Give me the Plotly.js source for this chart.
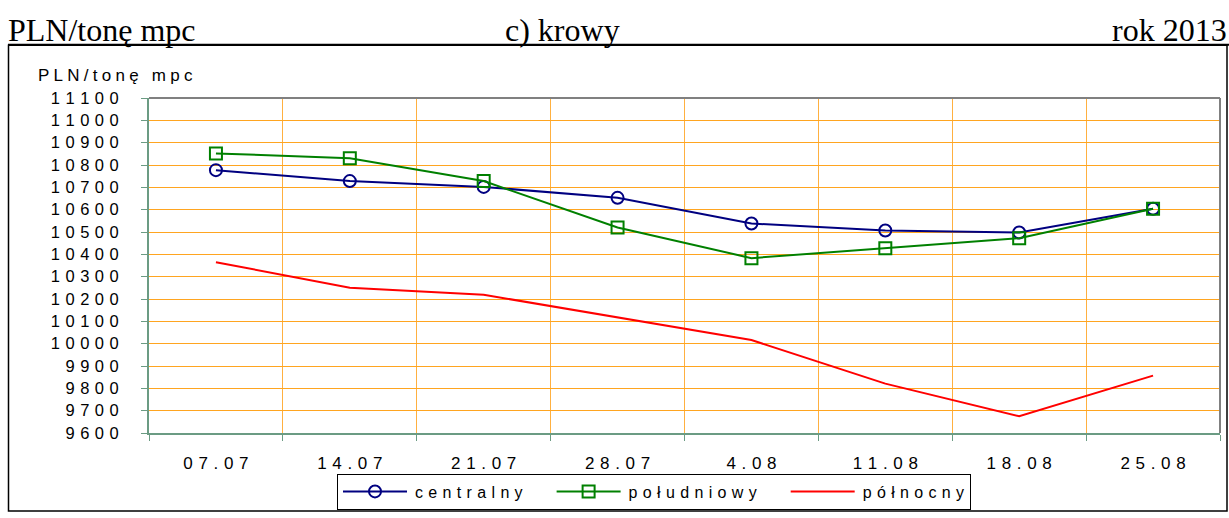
<!DOCTYPE html>
<html>
<head>
<meta charset="utf-8">
<script src="https://cdn.plot.ly/plotly-3.0.1.min.js"></script>
<style>
html,body{margin:0;padding:0;background:#fff;}
#chart{width:1229px;height:518px;}
</style>
</head>
<body>
<div id="chart"></div>
<script>
const categories = ["07.07","14.07","21.07","28.07","4.08","11.08","18.08","25.08"];
const centralny = [10777,10728,10702,10653,10538,10507,10498,10604];
const poludniowy = [10852,10830,10728,10520,10383,10427,10472,10604];
const polnocny = [10365,10250,10219,10118,10016,9821,9675,9857];
const seriesNames = ["centralny","południowy","północny"];
const yTickValues = [9600,9700,9800,9900,10000,10100,10200,10300,10400,10500,10600,10700,10800,10900,11000,11100];
const headerLeft = "PLN/tonę mpc";
const headerCenter = "c) krowy";
const headerRight = "rok 2013";
const yAxisTitle = "PLN/tonę mpc";

function spaced(s, gap){ return String(s).split('').join(gap || '\u2004'); }
const PAD = '\u2002\u2002\u2002';

const W = 1229, H = 518;
const L = 149, R = 1220, T = 98, B = 437;
const px = x => (x - L) / (R - L);
const py = y => (B - y) / (B - T);

const xLabels = categories.map(c => spaced(c));
const SANS = 'Liberation Sans, Arial, sans-serif';
const SERIF = 'Liberation Serif, Times New Roman, serif';

const traces = [
  {x: xLabels, y: centralny, name: spaced(seriesNames[0]) + PAD, type:'scatter', mode:'lines+markers',
   line:{color:'#000080', width:2}, marker:{symbol:'circle-open', size:12, color:'#000080', line:{width:2, color:'#000080'}}},
  {x: xLabels, y: poludniowy, name: spaced(seriesNames[1]) + PAD, type:'scatter', mode:'lines+markers',
   line:{color:'#008000', width:2}, marker:{symbol:'square-open', size:12, color:'#008000', line:{width:2, color:'#008000'}}},
  {x: xLabels, y: polnocny, name: spaced(seriesNames[2]), type:'scatter', mode:'lines',
   line:{color:'#ff0000', width:2}}
];

const layout = {
  width: W, height: H,
  margin: {l: L, r: W - R, t: T, b: H - B, pad: 0},
  paper_bgcolor: '#fff', plot_bgcolor: '#fff',
  font: {family: SANS, size: 17, color: '#000'},
  showlegend: true,
  legend: {orientation: 'h', x: px(654), xanchor: 'center', y: py(478), yanchor: 'top',
           bordercolor: '#000', borderwidth: 1, bgcolor: '#fff',
           font: {size: 16, family: SANS},
           itemwidth: 67, tracegroupgap: 0, traceorder: 'normal'},
  xaxis: {type: 'category', range: [-0.5, 7.5], tickson: 'boundaries', showgrid: true, gridcolor: '#ffb040', gridwidth: 1,
          showline: true, linecolor: '#6b9b83', linewidth: 2, ticks: 'outside', ticklen: 6, tickcolor: '#6b9b83',
          tickfont: {size: 17}, ticklabelstandoff: 14, zeroline: false, fixedrange: true},
  yaxis: {range: [9600, 11100], tickvals: yTickValues, ticktext: yTickValues.map(v => spaced(v)),
          showgrid: true, gridcolor: '#ffa520', gridwidth: 1,
          showline: true, linecolor: '#6b9b83', linewidth: 2, ticks: 'outside', ticklen: 6, tickcolor: '#6b9b83',
          tickfont: {size: 16.5}, ticklabelstandoff: 19, zeroline: false, fixedrange: true},
  shapes: [
    {type:'line', xref:'paper', yref:'paper', x0:0, x1:1, y0:1, y1:1, line:{color:'#808080', width:2}},
    {type:'line', xref:'paper', yref:'paper', x0:1, x1:1, y0:0, y1:1, line:{color:'#808080', width:2}},
    {type:'rect', xref:'paper', yref:'paper', x0:px(8.5), x1:px(1227), y0:py(44.5), y1:py(516), line:{color:'#000', width:1.5}},
    {type:'line', xref:'paper', yref:'paper', x0:px(8), x1:px(1229), y0:py(44), y1:py(44), line:{color:'#000', width:2}}
  ],
  annotations: [
    {xref:'paper', yref:'paper', x:px(6), y:py(49), xanchor:'left', yanchor:'bottom', showarrow:false,
     text: headerLeft, font:{family:SERIF, size:32, color:'#000'}},
    {xref:'paper', yref:'paper', x:px(562), y:py(49), xanchor:'center', yanchor:'bottom', showarrow:false,
     text: headerCenter, font:{family:SERIF, size:32, color:'#000'}},
    {xref:'paper', yref:'paper', x:px(1229), y:py(49), xanchor:'right', yanchor:'bottom', showarrow:false,
     text: headerRight, font:{family:SERIF, size:32, color:'#000'}},
    {xref:'paper', yref:'paper', x:px(36), y:py(75), xanchor:'left', yanchor:'middle', showarrow:false,
     text: spaced(yAxisTitle, '\u2005'), font:{family:SANS, size:17, color:'#000'}}
  ]
};

Plotly.newPlot('chart', traces, layout, {displayModeBar: false, staticPlot: true}).then(function(gd){
  // lengthen legend sample lines to match the original's long line samples
  gd.querySelectorAll('.legend .legendlines path').forEach(function(p){ p.setAttribute('d', 'M5,0h64'); });
  gd.querySelectorAll('.legend .legendpoints path').forEach(function(p){ p.setAttribute('transform', 'translate(37,0)'); });
});
</script>
</body>
</html>
